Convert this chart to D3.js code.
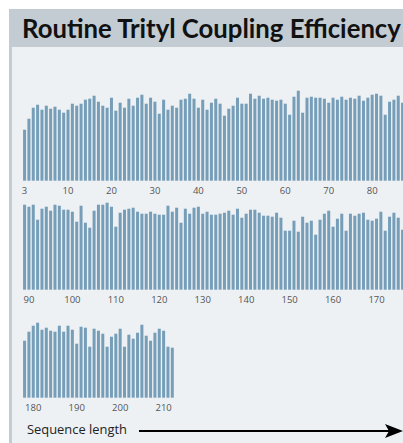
<!DOCTYPE html>
<html lang="en">
<head>
<meta charset="UTF-8">
<title>Routine Trityl Coupling Efficiency</title>
<script src="https://d3js.org/d3.v7.min.js"></script>
<style>
  html, body { margin: 0; padding: 0; background: #ffffff; }
  svg { display: block; }
</style>
</head>
<body>
<svg id="chart" width="403" height="443"></svg>
<script>
// relative bar heights, one array per row
const row1Values = [
  51, 62, 73, 76, 71, 75, 72, 74, 71, 68,
  71, 77, 75, 77, 81, 82, 85, 79, 75, 73,
  83, 70, 78, 73, 82, 75, 83, 86, 77, 83,
  79, 67, 81, 71, 75, 73, 81, 82, 87, 82,
  73, 81, 71, 78, 82, 77, 65, 72, 75, 83,
  77, 77, 87, 82, 85, 82, 83, 81, 80, 81,
  77, 66, 84, 90, 68, 83, 84, 83, 83, 82,
  78, 83, 81, 84, 81, 83, 82, 85, 80, 83,
  86, 87, 85, 66, 79, 81, 85, 78
];
const row2Values = [
  85, 83, 85, 70, 81, 83, 79, 85, 84, 80,
  80, 78, 68, 84, 67, 62, 79, 85, 85, 87,
  83, 63, 77, 80, 81, 82, 78, 76, 76, 78,
  76, 75, 75, 84, 78, 82, 67, 81, 76, 82,
  83, 76, 78, 75, 75, 76, 77, 79, 75, 81,
  72, 76, 80, 80, 77, 74, 74, 73, 77, 72,
  59, 59, 69, 58, 73, 67, 69, 55, 70, 76,
  79, 63, 71, 76, 59, 76, 74, 76, 77, 70,
  69, 71, 78, 59, 73, 77, 72, 60
];
const row3Values = [
  57, 66, 72, 75, 68, 70, 67, 66, 72, 66,
  72, 68, 54, 71, 70, 51, 69, 67, 64, 51,
  61, 64, 69, 51, 63, 59, 65, 73, 62, 57,
  65, 69, 67, 51, 50
];

// first sequence position of each row
const rowStarts = [0, 89, 178];

// tick positions and their labels
const row1Ticks = [0, 10, 20, 30, 40, 50, 60, 70, 80];
const row1TickLabels = ["3", "10", "20", "30", "40", "50", "60", "70", "80"];
const row2Ticks = [90, 100, 110, 120, 130, 140, 150, 160, 170];
const row3Ticks = [180, 190, 200, 210];

const titleText = "Routine Trityl Coupling Efficiency";
const xLabelText = "Sequence length";

const svg = d3.select("#chart");
const W = +svg.attr("width"), H = +svg.attr("height");

const frameColor = "#c2ccd2";
const panelColor = "#edf1f4";
const barColor = "#779eb9";

// frame + title bar
svg.append("rect").attr("x", 9).attr("y", 9).attr("width", W - 9).attr("height", H - 9)
    .attr("fill", frameColor);
svg.append("rect").attr("x", 12).attr("y", 47).attr("width", W - 12).attr("height", H - 47)
    .attr("fill", panelColor);

const title = svg.append("text")
    .attr("x", 22)
    .attr("y", 38)
    .style("font-family", "Lato, 'Open Sans', sans-serif")
    .style("font-weight", "bold")
    .style("font-size", "20px")
    .style("fill", "#111")
    .text(titleText);
// fit the title so it runs up to the right edge like in the original
const tw = title.node().getComputedTextLength();
title.style("font-size", (20 * 379 / tw) + "px");

const step = 4.345;
const rows = [
    { values: row1Values, start: rowStarts[0], base: 180.7, ticks: row1Ticks, labels: row1TickLabels },
    { values: row2Values, start: rowStarts[1], base: 289.7, ticks: row2Ticks, labels: row2Ticks.map(String) },
    { values: row3Values, start: rowStarts[2], base: 397.7, ticks: row3Ticks, labels: row3Ticks.map(String) }
];

rows.forEach(row => {
    const seq = row.values.map((v, i) => row.start + i);
    const x = d3.scaleBand()
        .domain(seq)
        .range([22.4, 22.4 + step * seq.length])
        .paddingInner(0.31)
        .paddingOuter(0.155);
    const y = d3.scaleLinear().domain([0, 100]).range([row.base, row.base - 100]);

    const g = svg.append("g");
    g.selectAll("rect")
        .data(row.values)
        .enter()
        .append("rect")
        .attr("x", (d, i) => x(seq[i]))
        .attr("y", d => y(d))
        .attr("width", x.bandwidth())
        .attr("height", d => y(0) - y(d))
        .attr("fill", barColor);

    // x axis (labels only)
    const axis = d3.axisBottom(x)
        .tickValues(row.ticks)
        .tickSize(0)
        .tickPadding(6.7)
        .tickFormat((d, i) => row.labels[i]);
    const ax = svg.append("g")
        .attr("transform", `translate(0,${row.base})`)
        .call(axis);
    ax.select(".domain").remove();
    ax.selectAll("text")
        .style("font-family", "'Open Sans', Lato, sans-serif")
        .style("font-size", "9.5px")
        .style("fill", "#555");
});

// x label with arrow
svg.append("text")
    .attr("x", 27)
    .attr("y", 433.5)
    .style("font-family", "'Open Sans', Lato, sans-serif")
    .style("font-size", "12.9px")
    .style("fill", "#222")
    .text(xLabelText);

svg.append("line")
    .attr("x1", 139).attr("x2", 390)
    .attr("y1", 431).attr("y2", 431)
    .attr("stroke", "#000")
    .attr("stroke-width", 2);
svg.append("path")
    .attr("d", "M403,431 L385,424 L389,431 L385,438 Z")
    .attr("fill", "#000");
</script>
</body>
</html>
